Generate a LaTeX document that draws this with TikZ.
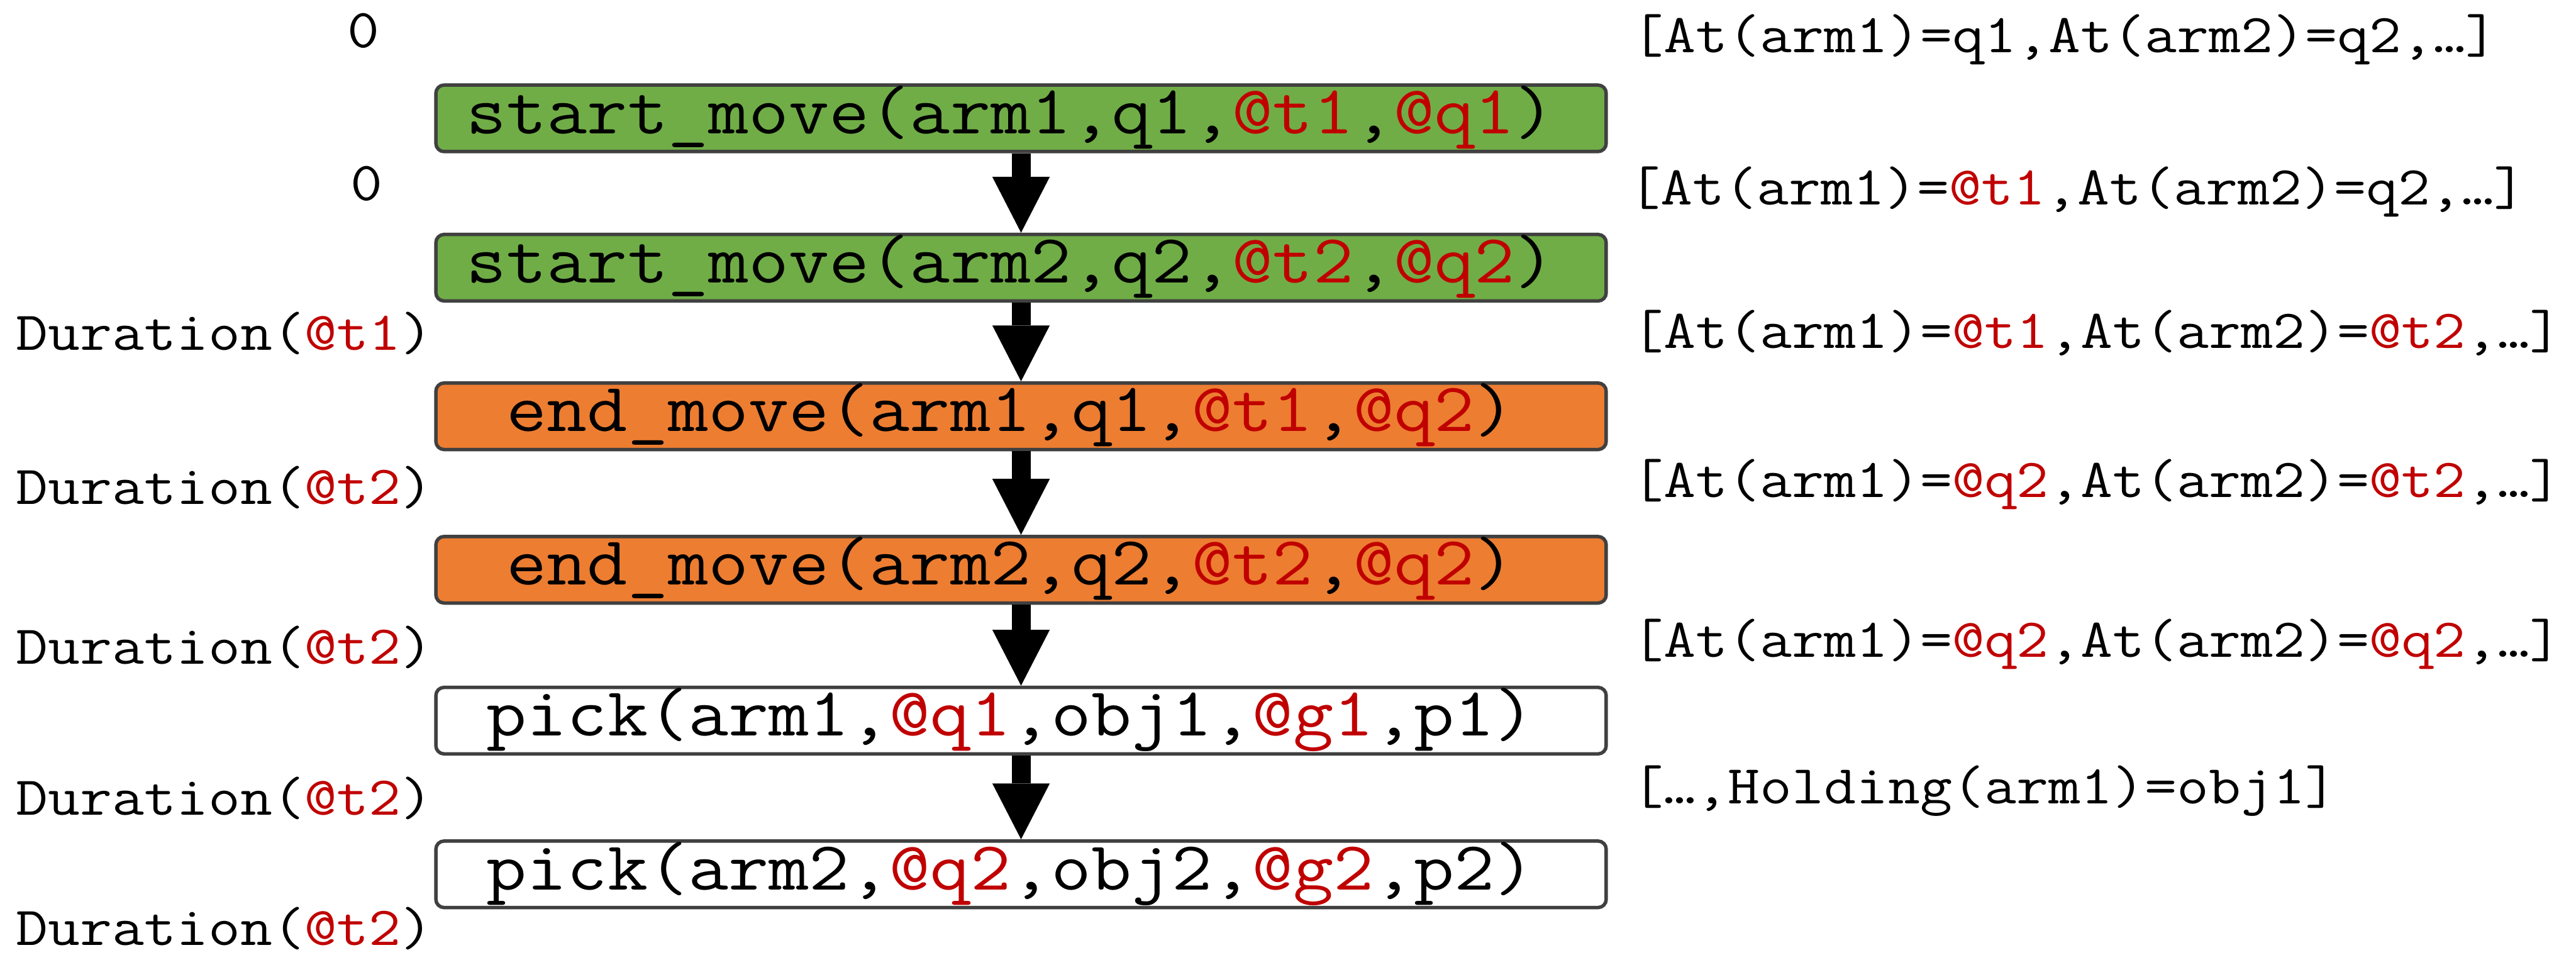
\documentclass[tikz,border=0pt]{standalone}
\usepackage{fontspec}
\setmonofont[FakeStretch=1.135]{Latin Modern Mono}
\usetikzlibrary{arrows.meta}
\definecolor{actgreen}{HTML}{70AD47}
\definecolor{actorange}{HTML}{ED7D31}
\definecolor{actborder}{HTML}{404040}
\definecolor{varred}{HTML}{C00000}
\newcommand{\var}[1]{\textcolor{varred}{#1}}

\begin{document}
\begin{tikzpicture}[x=0.02cm, y=-0.02cm,
		action/.style={draw=actborder, line width=0.042cm, rounded corners=0.1cm,
				minimum width=14.25cm, minimum height=0.81cm, inner sep=0pt,
				font=\ttfamily\fontsize{23.9}{25}\selectfont, text height=0.372cm, text depth=0pt,
				execute at end node={\hspace{0.25cm}}},
		timelbl/.style={anchor=base west, inner sep=0pt, font=\ttfamily\fontsize{19}{20}\selectfont},
		statelbl/.style={timelbl},
		flow/.style={line width=0.23cm, -{Triangle[width=0.7cm, length=0.68cm, line width=0pt]}}]

		\useasboundingbox (0, 0) rectangle (1568, 581);

		% actions
		\node[action, fill=actgreen] (sm1) at (621.5, 72) {start\_move(arm1,q1,\var{@t1},\var{@q1})};
		\node[action, fill=actgreen] (sm2) at (621.5, 162.9) {start\_move(arm2,q2,\var{@t2},\var{@q2})};
		\node[action, fill=actorange] (em1) at (621.5, 253.3) {end\_move(arm1,q1,\var{@t1},\var{@q2})};
		\node[action, fill=actorange] (em2) at (621.5, 346.7) {end\_move(arm2,q2,\var{@t2},\var{@q2})};
		\node[action, fill=white] (pk1) at (621.5, 438.5) {pick(arm1,\var{@q1},obj1,\var{@g1},p1)};
		\node[action, fill=white] (pk2) at (621.5, 532) {pick(arm2,\var{@q2},obj2,\var{@g2},p2)};

		\draw[flow] (sm1) -- (sm2);
		\draw[flow] (sm2) -- (em1);
		\draw[flow] (em1) -- (em2);
		\draw[flow] (em2) -- (pk1);
		\draw[flow] (pk1) -- (pk2);

		% times
		\node[timelbl, anchor=base] (t1) at (221.4, 29) {0};
		\node[timelbl, anchor=base] (t2) at (223.3, 122) {0};
		\foreach \y/\t [count=\i] in {213/1, 306.9/2, 404/2, 496/2, 575/2} {
				\node[timelbl] (dur\i) at (9.5, \y) {Duration(\var{@t\t})};
			}

		% states
		\node[statelbl] (s1) at (993, 32) {[At(arm1)=q1,At(arm2)=q2,…]};
		\node[statelbl] (s2) at (991, 124.6) {[At(arm1)=\var{@t1},At(arm2)=q2,…]};
		\node[statelbl] (s3) at (993, 212) {[At(arm1)=\var{@t1},At(arm2)=\var{@t2},…]};
		\node[statelbl] (s4) at (993, 302.5) {[At(arm1)=\var{@q2},At(arm2)=\var{@t2},…]};
		\node[statelbl] (s5) at (993, 400) {[At(arm1)=\var{@q2},At(arm2)=\var{@q2},…]};
		\node[statelbl] (s6) at (993, 489) {[…,Holding(arm1)=obj1]};
	\end{tikzpicture}
\end{document}
